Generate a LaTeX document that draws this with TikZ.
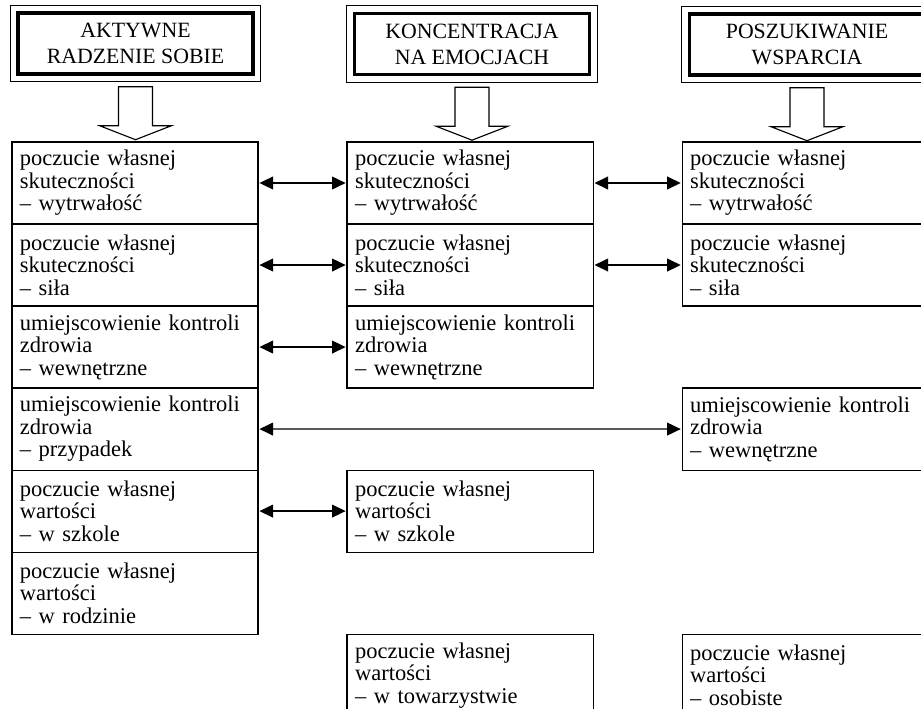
\documentclass[tikz,border=0pt]{standalone}
\usepackage{fontspec}
\setmainfont{Liberation Serif}
\usetikzlibrary{positioning}
\usetikzlibrary{calc}
\usetikzlibrary{arrows.meta}

\begin{document}
\begin{tikzpicture}[x=0.025cm, y=-0.025cm,
        box/.style={draw, line width=0.8pt, outer sep=0pt, minimum width=6.15cm, minimum height=2.05cm,
            text width=5.75cm, inner xsep=0.2cm, align=left, font=\fontsize{16pt}{16pt}\selectfont},
        head/.style={draw, line width=2.4pt, minimum width=5.875cm, minimum height=1.525cm,
            align=center, font=\fontsize{15.5pt}{18.5pt}\selectfont},
        link/.style={{Triangle[length=3.4mm,width=3.2mm]}-{Triangle[length=3.4mm,width=3.2mm]},
            line width=0.9pt, shorten <=1pt, shorten >=1pt}]
        \useasboundingbox (0,0) rectangle (921,709);
        \clip (0,0) rectangle (921,709);

        \node[head] (ha) at (135.5,43.5) {AKTYWNE\\RADZENIE SOBIE};
        \node[head] (hk) at (472,44) {KONCENTRACJA\\NA EMOCJACH};
        \node[head] (hp) at (807,44.5) {POSZUKIWANIE\\WSPARCIA};
        \foreach \h in {ha,hk,hp} {
            \draw[line width=0.6pt] ([shift={(-6,-6)}]\h.north west) rectangle ([shift={(6,6)}]\h.south east);
            \draw[line width=0.8pt] ($(\h.south)+(-17,11)$) -- ++(0,39) -- ++(-19,0) -- ($(\h.south)+(0,64)$)
                -- ($(\h.south)+(36,50)$) -- ++(-19,0) -- ++(0,-39) -- cycle;
        }

        \node[box] (a1) at (135,183) {poczucie własnej\\skuteczności\\– wytrwałość};
        \node[box, below=0pt of a1] (a2) {poczucie własnej\\skuteczności\\– siła};
        \node[box, below=0pt of a2] (a3) {umiejscowienie kontroli\\zdrowia\\– wewnętrzne};
        \node[box, below=0pt of a3] (a4) {umiejscowienie kontroli\\zdrowia\\– przypadek};
        \node[box, below=0pt of a4] (a5) {poczucie własnej\\wartości\\– w szkole};
        \node[box, below=0pt of a5] (a6) {poczucie własnej\\wartości\\– w rodzinie};

        \node[box, right=2.225cm of a1] (k1) {poczucie własnej\\skuteczności\\– wytrwałość};
        \node[box, below=0pt of k1] (k2) {poczucie własnej\\skuteczności\\– siła};
        \node[box, below=0pt of k2] (k3) {umiejscowienie kontroli\\zdrowia\\– wewnętrzne};
        \node[box, right=2.225cm of a5] (k5) {poczucie własnej\\wartości\\– w szkole};
        \node[box, below=2.05cm of k5] (k7) {poczucie własnej\\wartości\\– w towarzystwie};

        \node[box, right=2.225cm of k1] (p1) {poczucie własnej\\skuteczności\\– wytrwałość};
        \node[box, below=0pt of p1] (p2) {poczucie własnej\\skuteczności\\– siła};
        \node[box, below=2.05cm of p2] (p4) {umiejscowienie kontroli\\zdrowia\\– wewnętrzne};
        \node[box, right=2.225cm of k7] (p7) {poczucie własnej\\wartości\\– osobiste};

        \draw[link] (a1) -- (k1);
        \draw[link] (a2) -- (k2);
        \draw[link] (a3) -- (k3);
        \draw[link] (a4) -- (p4);
        \draw[link] (a5) -- (k5);
        \draw[link] (k1) -- (p1);
        \draw[link] (k2) -- (p2);
    \end{tikzpicture}
\end{document}
